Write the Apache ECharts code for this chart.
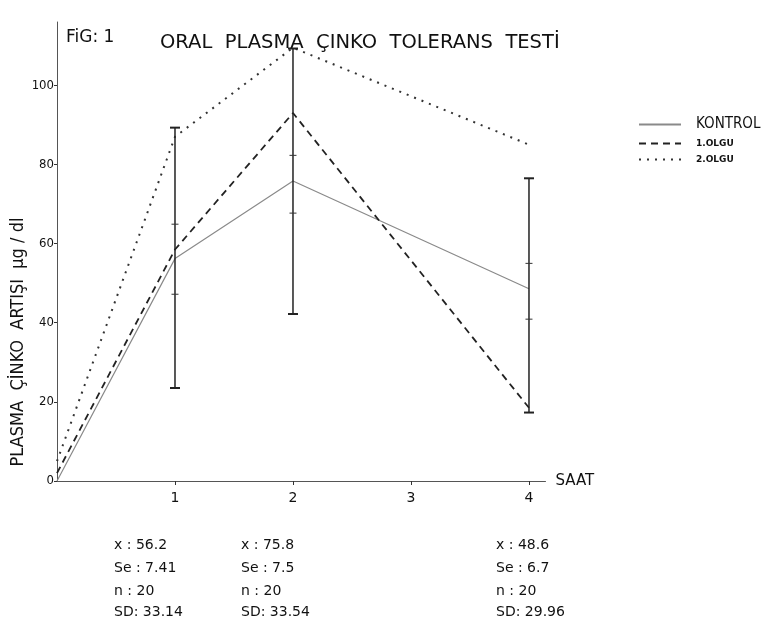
<!DOCTYPE html>
<html>
<head>
<meta charset="utf-8">
<script src="https://cdn.jsdelivr.net/npm/echarts@6/dist/echarts.min.js"></script>
<style>
html,body{margin:0;padding:0;background:#fff;}
#c{width:766px;height:624px;}
</style>
</head>
<body>
<div id="c"></div>
<script>
// ---- data ----
var hours = [0, 1, 2, 4];
var kontrol = [0, 56.2, 75.8, 48.6];
var olgu1 = [2, 58.5, 93, 18.5];
var olgu2 = [5, 87, 109.5, 85];

var barHours = [1, 2, 4];
var sdLow = [23.5, 42.2, 17.3];
var sdHigh = [89.3, 109.3, 76.5];
var seLow = [47.2, 67.7, 40.9];
var seHigh = [64.9, 82.3, 55.0];

var statMean = ['56.2', '75.8', '48.6'];
var statSe = ['7.41', '7.5', '6.7'];
var statN = ['20', '20', '20'];
var statSd = ['33.14', '33.54', '29.96'];

var seriesNames = ['KONTROL', '1.OLGU', '2.OLGU'];

function pairs(xs, ys) { return xs.map(function (x, i) { return [x, ys[i]]; }); }

var chart = echarts.init(document.getElementById('c'));
var font = 'DejaVu Sans';
var cond = 'DejaVu Sans Condensed';

var statCols = [114, 241, 496];
var statRows = [545, 568, 591, 612];
var statGraphics = [];
statCols.forEach(function (cx, i) {
  var lines = ['x : ' + statMean[i], 'Se : ' + statSe[i], 'n : ' + statN[i], 'SD: ' + statSd[i]];
  lines.forEach(function (t, j) {
    statGraphics.push({
      type: 'text', x: cx, y: statRows[j],
      style: { text: t, fontSize: 14, fontFamily: font, fill: '#111', textVerticalAlign: 'middle' }
    });
  });
});

var option = {
  backgroundColor: '#ffffff',
  animation: false,
  title: {
    text: 'ORAL  PLASMA  ÇINKO  TOLERANS  TESTİ',
    left: 155, top: 28,
    textStyle: { fontSize: 19.5, fontWeight: 'normal', color: '#111', fontFamily: font }
  },
  legend: {
    orient: 'vertical', left: 638, top: 117, padding: 0,
    itemWidth: 42, itemHeight: 10, itemGap: 7,
    data: seriesNames,
    itemStyle: { opacity: 0 },
    formatter: function (n) { return n === 'KONTROL' ? '{k|' + n + '}' : '{o|' + n + '}'; },
    textStyle: {
      color: '#111', fontFamily: font,
      rich: {
        k: { fontSize: 15, fontFamily: cond, lineHeight: 20, padding: [0, 0, 0, 10] },
        o: { fontSize: 9, fontFamily: font, fontWeight: 'bold', lineHeight: 12, padding: [0, 0, 0, 10] }
      }
    }
  },
  grid: { left: 57, top: 22, width: 488.5, height: 459 },
  xAxis: {
    type: 'value', min: 0, max: 4.14, interval: 1,
    name: 'SAAT', nameLocation: 'end', nameGap: 10,
    nameTextStyle: { fontSize: 15, color: '#111', fontFamily: font },
    axisLine: { lineStyle: { color: '#555', width: 1 } },
    axisTick: { length: 4, lineStyle: { color: '#333' } },
    axisLabel: {
      showMinLabel: false, showMaxLabel: false, margin: 10,
      fontSize: 14, color: '#111', fontFamily: font
    },
    splitLine: { show: false }
  },
  yAxis: {
    type: 'value', min: 0, max: 116, interval: 20,
    axisLine: { show: true, lineStyle: { color: '#555', width: 1 } },
    axisTick: { show: true, length: 3, lineStyle: { color: '#333' } },
    axisLabel: {
      showMaxLabel: false, margin: 3,
      fontSize: 13, color: '#111', fontFamily: cond
    },
    splitLine: { show: false }
  },
  graphic: [
    { type: 'text', x: 66, y: 38,
      style: { text: 'FiG: 1', fontSize: 17, fontFamily: font, fill: '#111', textVerticalAlign: 'middle' } },
    { type: 'text', x: 18, y: 342, rotation: Math.PI / 2,
      style: { text: 'PLASMA  ÇİNKO  ARTIŞI  μg / dl', fontSize: 18, fontFamily: cond, fill: '#111', textAlign: 'center', textVerticalAlign: 'middle' } }
  ].concat(statGraphics),
  series: [
    {
      name: seriesNames[0], type: 'line', data: pairs(hours, kontrol),
      symbol: 'none', lineStyle: { color: '#8a8a8a', width: 1.2, type: 'solid' },
      itemStyle: { color: '#444' }, z: 3
    },
    {
      name: seriesNames[1], type: 'line', data: pairs(hours, olgu1),
      symbol: 'none', lineStyle: { color: '#222', width: 1.8, type: [7, 5] },
      itemStyle: { color: '#222' }, z: 3
    },
    {
      name: seriesNames[2], type: 'line', data: pairs(hours, olgu2),
      symbol: 'none', lineStyle: { color: '#333', width: 2, type: [2, 6] },
      itemStyle: { color: '#333' }, z: 3
    },
    {
      name: 'errors', type: 'custom', z: 4,
      data: barHours.map(function (h, i) { return [h, sdLow[i], sdHigh[i], seLow[i], seHigh[i]]; }),
      renderItem: function (params, api) {
        var x = api.value(0);
        var lo = api.coord([x, api.value(1)]);
        var hi = api.coord([x, api.value(2)]);
        var sl = api.coord([x, api.value(3)]);
        var sh = api.coord([x, api.value(4)]);
        var st = { stroke: '#222', lineWidth: 1.5 };
        var cap = 5, tk = 3.5;
        return {
          type: 'group',
          children: [
            { type: 'line', shape: { x1: lo[0], y1: lo[1], x2: hi[0], y2: hi[1] }, style: st },
            { type: 'line', shape: { x1: lo[0] - cap, y1: lo[1], x2: lo[0] + cap, y2: lo[1] }, style: { stroke: '#222', lineWidth: 2 } },
            { type: 'line', shape: { x1: hi[0] - cap, y1: hi[1], x2: hi[0] + cap, y2: hi[1] }, style: { stroke: '#222', lineWidth: 2 } },
            { type: 'line', shape: { x1: sl[0] - tk, y1: sl[1], x2: sl[0] + tk, y2: sl[1] }, style: { stroke: '#333', lineWidth: 1 } },
            { type: 'line', shape: { x1: sh[0] - tk, y1: sh[1], x2: sh[0] + tk, y2: sh[1] }, style: { stroke: '#333', lineWidth: 1 } }
          ]
        };
      }
    }
  ]
};
chart.setOption(option);
</script>
</body>
</html>
